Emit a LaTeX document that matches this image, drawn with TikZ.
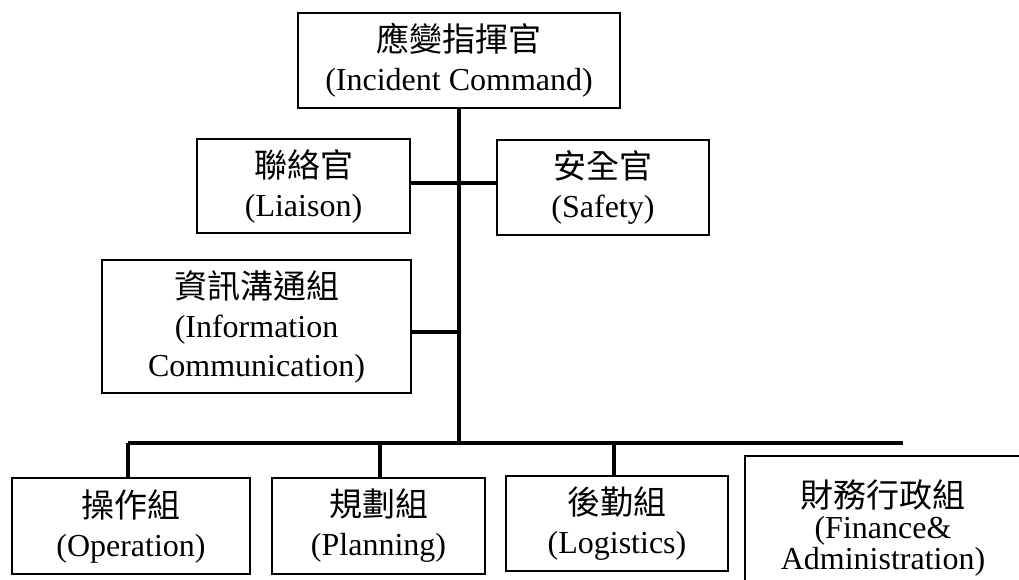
\documentclass[tikz,border=0pt]{standalone}
\usepackage{fontspec}
\setmainfont{Liberation Serif}
\newfontfamily\cjkfam{Noto Sans CJK TC}
\newcommand{\zh}[1]{{\cjkfam\fontsize{33}{38}\selectfont #1}}
\begin{document}
\begin{tikzpicture}[x=1pt,y=-1pt,
  box/.style={draw=black,line width=1.5pt,align=center,inner sep=0pt,
    font=\fontsize{32}{39}\selectfont},
  link/.style={draw=black,line width=4pt}]
\useasboundingbox (0,0) rectangle (1019,579);
\clip (0,0) rectangle (1019,579);
\node[box,minimum width=322,minimum height=95] (IC) at (459,60.5) {\zh{應變指揮官}\\(Incident Command)};
\node[box,minimum width=213,minimum height=94] (LI) at (303.5,186) {\zh{聯絡官}\\(Liaison)};
\node[box,minimum width=212,minimum height=95] (SA) at (603,187.5) {\zh{安全官}\\(Safety)};
\node[box,minimum width=309,minimum height=133] (IN) at (256.5,326.5) {\zh{資訊溝通組}\\(Information\\Communication)};
\node[box,minimum width=238,minimum height=96] (OP) at (131,526) {\zh{操作組}\\(Operation)};
\node[box,minimum width=213,minimum height=96] (PL) at (378.5,526) {\zh{規劃組}\\(Planning)};
\node[box,minimum width=222,minimum height=95] (LO) at (617,523.5) {\zh{後勤組}\\(Logistics)};
\node[draw=black,line width=1.5pt,minimum width=290,minimum height=160,anchor=north west] (FI) at (744,455) {};
\node[align=center,inner sep=0pt,font=\fontsize{32}{31}\selectfont] (FT) at (883,528) {\zh{財務行政組}\\(Finance\&\\Administration)};
\coordinate (j1) at (459,183);
\coordinate (j2) at (459,332);
\coordinate (bus) at (459,443);
\coordinate (busL) at (128,443);
\coordinate (busR) at (903,443);
\draw[link] (IC.south) -- (bus);
\draw[link] (LI.east |- j1) -- (SA.west |- j1);
\draw[link] (IN.east |- j2) -- (j2);
\draw[link] (busL) -- (busR);
\draw[link] (busL) -- (busL |- OP.north);
\draw[link] (380,443) -- (380,0 |- PL.north);
\draw[link] (614,443) -- (614,0 |- LO.north);
\end{tikzpicture}
\end{document}
